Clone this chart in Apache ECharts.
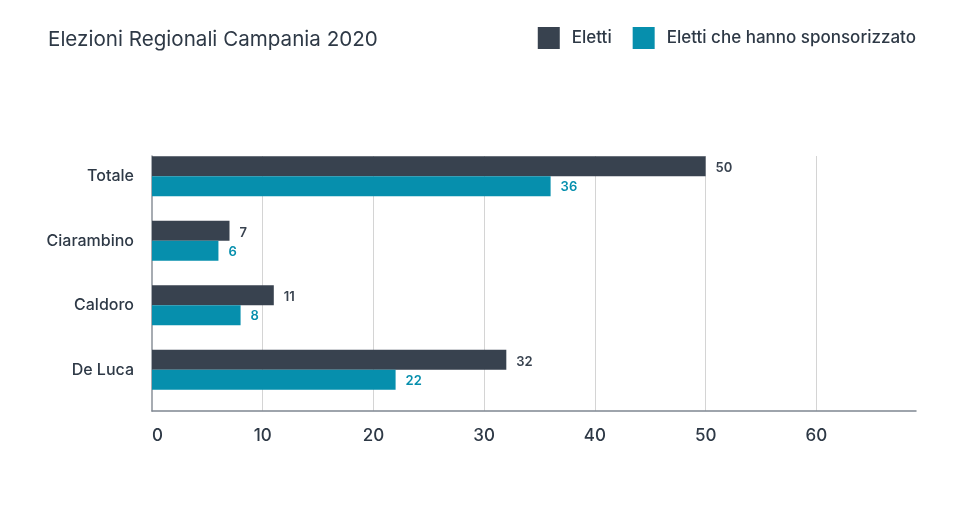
<!DOCTYPE html>
<html><head><meta charset="utf-8">
<script src="https://cdn.jsdelivr.net/npm/echarts@6/dist/echarts.min.js"></script>
<style>html,body{margin:0;padding:0;background:#fff}#c{width:964px;height:512px}</style>
</head><body><div id="c"></div>
<script>
const categories = ['Totale', 'Ciarambino', 'Caldoro', 'De Luca'];
const eletti = [50, 7, 11, 32];
const sponsor = [36, 6, 8, 22];
const xTicks = [0, 10, 20, 30, 40, 50, 60];
const seriesNames = ['Eletti', 'Eletti che hanno sponsorizzato'];

const DARK = '#38424f', TEAL = '#068fad', TEXT = '#2e3946';
const FONT = 'Inter, "Noto Sans", sans-serif';
const XMAX = 69;

const chart = echarts.init(document.getElementById('c'), null, {renderer: 'canvas'});
chart.setOption({
  animation: false,
  title: {text: 'Elezioni Regionali Campania 2020', left: 43, top: 24,
    textStyle: {fontFamily: FONT, fontSize: 20.6, fontWeight: 400, color: TEXT}},
  legend: {right: 43, top: 22, itemWidth: 22, itemHeight: 22, itemGap: 21,
    icon: 'rect', data: seriesNames,
    textStyle: {fontFamily: FONT, fontSize: 17, fontWeight: 500, color: TEXT, padding: [0,0,0,7]}},
  grid: [
    {left: 152, right: 48, top: 156, bottom: 101, containLabel: false},
    {left: 152, right: 48, top: 144, bottom: 110, containLabel: false}
  ],
  xAxis: [
    {type: 'value', gridIndex: 0, min: 0, max: XMAX, interval: 10,
      axisLine: {show: true, lineStyle: {color: '#7f8791', width: 1.5}},
      axisTick: {show: false},
      splitLine: {show: true, showMinLine: false, showMaxLine: false, lineStyle: {color: '#d4d4d4', width: 1}},
      axisLabel: {margin: 16, fontFamily: FONT, fontSize: 17, fontWeight: 500, color: TEXT,
        alignMinLabel: 'left',
        formatter: v => xTicks.includes(v) ? String(v) : ''}},
    {type: 'value', gridIndex: 1, min: 0, max: XMAX, interval: 10, show: false}
  ],
  yAxis: [
    {type: 'category', gridIndex: 0, data: categories, inverse: true,
      axisLine: {show: true, lineStyle: {color: '#8a9099', width: 1.5}},
      axisTick: {show: false}, axisLabel: {show: false}, splitLine: {show: false}},
    {type: 'category', gridIndex: 1, data: categories, inverse: true,
      axisLine: {show: false}, axisTick: {show: false},
      axisLabel: {margin: 18, fontFamily: FONT, fontSize: 16, fontWeight: 500, color: TEXT}}
  ],
  series: [
    {name: seriesNames[0], type: 'bar', xAxisIndex: 1, yAxisIndex: 1, data: eletti,
      barWidth: 20, barGap: '0%', itemStyle: {color: DARK},
      label: {show: true, position: 'right', distance: 10, offset: [0, 2], fontFamily: FONT, fontSize: 13, fontWeight: 600, color: DARK}},
    {name: seriesNames[1], type: 'bar', xAxisIndex: 1, yAxisIndex: 1, data: sponsor,
      barWidth: 20, barGap: '0%', itemStyle: {color: TEAL},
      label: {show: true, position: 'right', distance: 10, offset: [0, 1], fontFamily: FONT, fontSize: 13, fontWeight: 600, color: TEAL}}
  ]
});
</script></body></html>
